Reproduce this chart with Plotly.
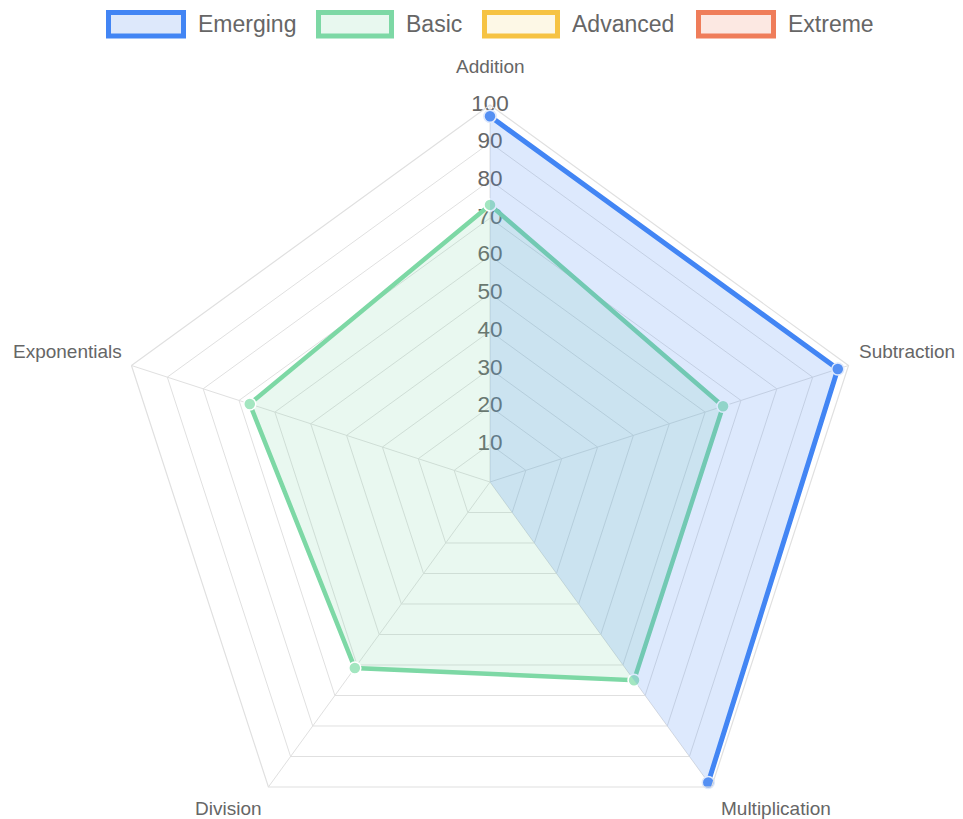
import plotly.graph_objects as go

# ---------------- data ----------------
categories = ["Addition", "Subtraction", "Multiplication", "Division", "Exponentials"]
emerging = [97, 97, 98.5, None, None]
basic = [73.5, 65, 65, 61, 67]
advanced = [None, None, None, None, None]
extreme = [None, None, None, None, None]
radial_ticks = [10, 20, 30, 40, 50, 60, 70, 80, 90, 100]
series_names = ["Emerging", "Basic", "Advanced", "Extreme"]

# ---------------- style ----------------
W, H = 955, 860
OFF = 8  # page body margin
line_cols = ["#4285f4", "#7dd8a5", "#f6c343", "#ef7d5a"]
fill_cols = ["rgba(66,133,244,0.18)", "rgba(125,216,165,0.17)",
             "rgba(246,195,67,0.12)", "rgba(239,125,90,0.15)"]
legend_fill = ["#dde8fb", "#e8f8ef", "#fdf8e6", "#fce8e2"]
FONT = "Liberation Sans, Arial, Helvetica, sans-serif"
TXT = "#666666"
GRID = "#e0e0e0"

cx, cy, R = 490 - OFF, 482 - OFF, 377

def px_x(x):
    return (x - OFF) / W

def px_y(y):
    return 1 - (y - OFF) / H

def closed(v):
    return list(v) + [v[0]]

theta_closed = closed(categories)

fig = go.Figure()

# radial tick labels (drawn under data, as in the original)
fig.add_trace(go.Scatterpolar(
    r=radial_ticks, theta=[categories[0]] * len(radial_ticks),
    mode="text", text=[str(t) for t in radial_ticks],
    textfont=dict(size=22.5, color=TXT, family=FONT),
    textposition="middle center", hoverinfo="skip", showlegend=False))

# Basic
fig.add_trace(go.Scatterpolar(
    r=closed(basic), theta=theta_closed, fill="toself",
    fillcolor=fill_cols[1], mode="lines+markers",
    line=dict(color=line_cols[1], width=4.5),
    marker=dict(size=12, color="#a3e6c0", line=dict(color="white", width=1.5)),
    name="Basic", showlegend=False))

# Emerging fill (null values fall to centre)
em_fill = [v if v is not None else 0 for v in emerging]
fig.add_trace(go.Scatterpolar(
    r=closed(em_fill), theta=theta_closed, fill="toself",
    fillcolor=fill_cols[0], mode="lines", line=dict(width=0, color="rgba(0,0,0,0)"),
    hoverinfo="skip", showlegend=False))
# Emerging line + points (gaps for nulls)
fig.add_trace(go.Scatterpolar(
    r=closed(emerging), theta=theta_closed, mode="lines+markers",
    line=dict(color=line_cols[0], width=5), connectgaps=False,
    marker=dict(size=12, color="#5590f3", line=dict(color="#dfe9fc", width=1.5)),
    name="Emerging", showlegend=False))

# Advanced / Extreme (no values)
for i, vals in ((2, advanced), (3, extreme)):
    fig.add_trace(go.Scatterpolar(
        r=closed(vals), theta=theta_closed, mode="lines+markers",
        line=dict(color=line_cols[i], width=4), fill="toself", fillcolor=fill_cols[i],
        name=series_names[i], showlegend=False))

fig.update_layout(
    width=W, height=H,
    margin=dict(l=0, r=0, t=0, b=0),
    paper_bgcolor="white", plot_bgcolor="white",
    font=dict(family=FONT, color=TXT),
    polar=dict(
        domain=dict(x=[(cx - R) / W, (cx + R) / W],
                    y=[1 - (cy + R) / H, 1 - (cy - R) / H]),
        gridshape="linear",
        bgcolor="white",
        radialaxis=dict(range=[0, 100], dtick=10, showticklabels=False,
                        ticks="", showline=False, gridcolor=GRID, gridwidth=1.2,
                        angle=90),
        angularaxis=dict(rotation=90, direction="clockwise", gridcolor=GRID,
                         gridwidth=1.2, showline=True, linecolor=GRID, linewidth=1.2,
                         ticks="", showticklabels=False),
    ),
)

# category (point) labels placed like the original
label_pos = [(490, 67, "center"), (858, 351, "left"), (776, 808, "center"),
             (228, 808, "center"), (123, 351, "right")]
for name, (lx, ly, anc) in zip(categories, label_pos):
    fig.add_annotation(xref="paper", yref="paper", x=px_x(lx), y=px_y(ly),
                       xanchor=anc, yanchor="middle", showarrow=False,
                       borderpad=0,
                       text=name, font=dict(size=19, color=TXT, family=FONT))

# custom legend (Chart.js style boxes)
boxes = [(106, 186), (316, 394), (482, 560), (696, 776)]
label_x = [196, 404, 570, 786]
for i, name in enumerate(series_names):
    x0, x1 = boxes[i]
    fig.add_shape(type="rect", xref="paper", yref="paper",
                  x0=px_x(x0 + 2.5), x1=px_x(x1 - 2.5),
                  y0=px_y(36), y1=px_y(12.5),
                  line=dict(color=line_cols[i], width=5), fillcolor=legend_fill[i])
    fig.add_annotation(xref="paper", yref="paper", x=px_x(label_x[i]), y=px_y(24),
                       xanchor="left", yanchor="middle", showarrow=False,
                       text=name, font=dict(size=23, color=TXT, family=FONT))

fig.write_html("out.html")
